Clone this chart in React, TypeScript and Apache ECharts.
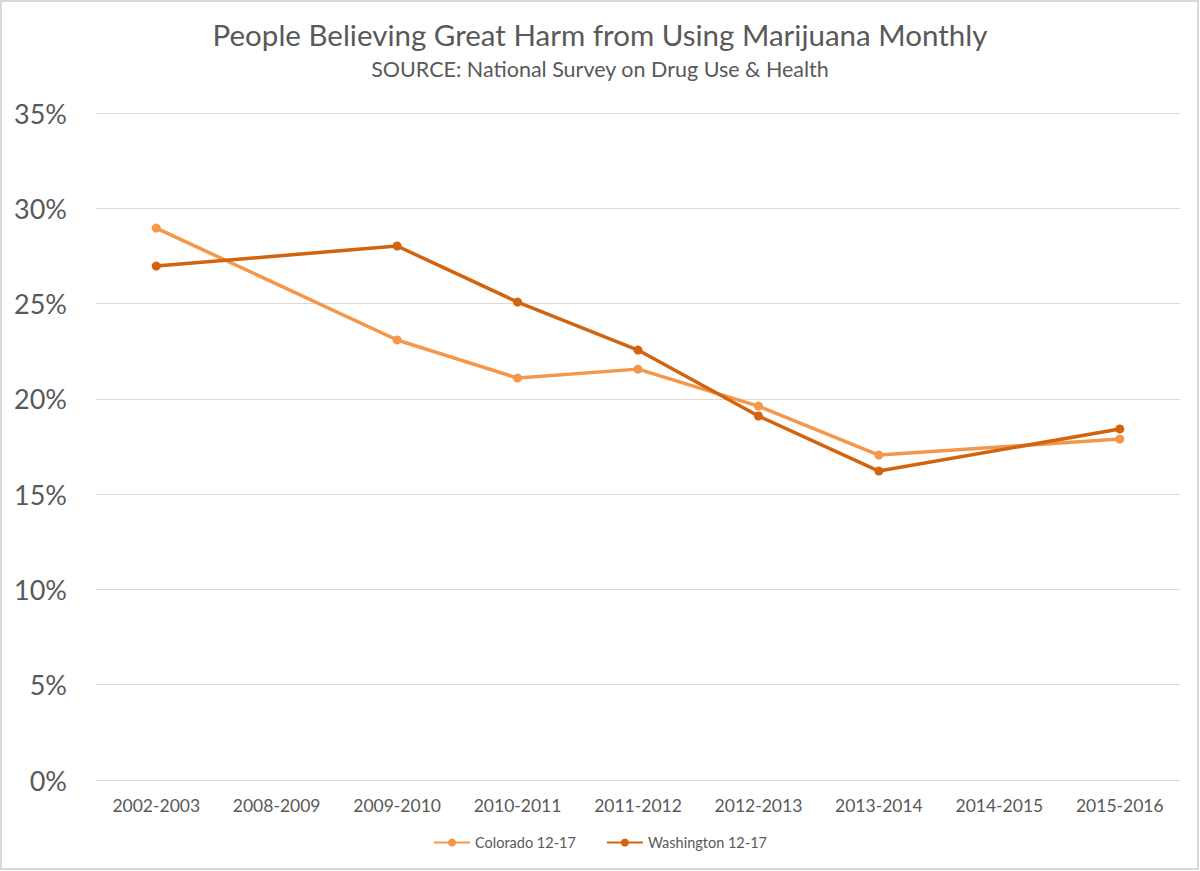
import React, { useEffect, useRef } from "react";
import * as echarts from "echarts";

const categories = ["2002-2003", "2008-2009", "2009-2010", "2010-2011", "2011-2012", "2012-2013", "2013-2014", "2014-2015", "2015-2016"];
const colorado = [28.96, null, 23.09, 21.09, 21.56, 19.62, 17.05, null, 17.89];
const washington = [26.97, null, 28.02, 25.08, 22.56, 19.1, 16.21, null, 18.42];
const yTicks = [0, 5, 10, 15, 20, 25, 30, 35];

export default function App() {
  const ref = useRef<HTMLDivElement>(null);
  useEffect(() => {
    const chart = echarts.init(ref.current!, null, { renderer: "svg" });
    const font = "Lato, 'Open Sans', sans-serif";
    chart.setOption({
      animation: false,
      backgroundColor: "#ffffff",
      title: {
        text: "People Believing Great Harm from Using Marijuana Monthly",
        subtext: "SOURCE: National Survey on Drug Use & Health",
        left: "center",
        top: 14,
        itemGap: 9,
        textStyle: { fontFamily: font, fontSize: 29.5, fontWeight: "normal", color: "#595959" },
        subtextStyle: { fontFamily: font, fontSize: 21.5, color: "#595959" },
      },
      graphic: [
        {
          type: "rect",
          shape: { x: 1, y: 1, width: 1197, height: 868 },
          style: { fill: "none", stroke: "#d9d9d9", lineWidth: 2 },
        },
      ],
      legend: {
        bottom: 16,
        left: "center",
        itemWidth: 36,
        itemHeight: 10,
        itemGap: 30,
        textStyle: { fontFamily: font, fontSize: 14.5, color: "#595959" },
        data: ["Colorado 12-17", "Washington 12-17"],
      },
      grid: { left: 96, right: 20, top: 113, bottom: 91 },
      xAxis: {
        type: "category",
        data: categories,
        boundaryGap: true,
        axisLine: { lineStyle: { color: "#d9d9d9", width: 1 } },
        axisTick: { show: false },
        axisLabel: { fontFamily: font, fontSize: 17.5, color: "#595959", margin: 16 },
      },
      yAxis: {
        type: "value",
        min: yTicks[0],
        max: yTicks[yTicks.length - 1],
        interval: 5,
        axisLine: { show: false },
        axisTick: { show: false },
        splitLine: { lineStyle: { color: "#d9d9d9", width: 1 } },
        axisLabel: {
          fontFamily: font,
          fontSize: 27,
          color: "#595959",
          margin: 29,
          formatter: (v: number) => v + "%",
        },
      },
      series: [
        {
          name: "Colorado 12-17",
          type: "line",
          data: colorado,
          connectNulls: true,
          symbol: "circle",
          symbolSize: 9,
          lineStyle: { width: 3.5, color: "#F4974A" },
          itemStyle: { color: "#F4974A" },
        },
        {
          name: "Washington 12-17",
          type: "line",
          data: washington,
          connectNulls: true,
          symbol: "circle",
          symbolSize: 9,
          lineStyle: { width: 3.5, color: "#D2640F" },
          itemStyle: { color: "#D2640F" },
        },
      ],
    });
    return () => chart.dispose();
  }, []);
  return (
    <div
      ref={ref}
      style={{ position: "fixed", left: 0, top: 0, width: 1200, height: 871 }}
    />
  );
}
